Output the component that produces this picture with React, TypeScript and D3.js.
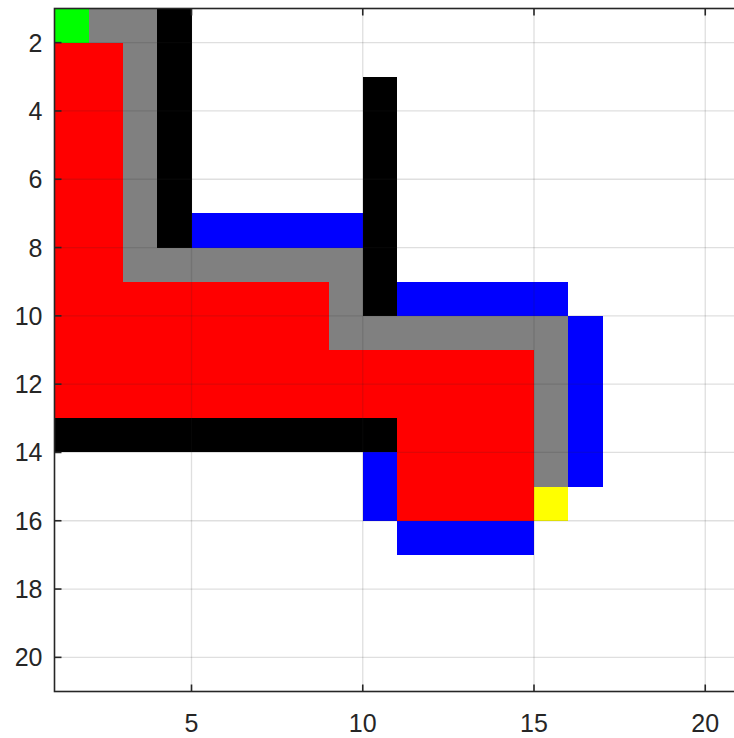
import * as d3 from "d3";

// grid map, one string per row (row 1 at top), one char per column
// . free  O obstacle  V visited  F frontier  P path  S start  G goal
const gridRows = [
  "SPPO................",
  "VVPO................",
  "VVPO.....O..........",
  "VVPO.....O..........",
  "VVPO.....O..........",
  "VVPO.....O..........",
  "VVPOFFFFFO..........",
  "VVPPPPPPPO..........",
  "VVVVVVVVPOFFFFF.....",
  "VVVVVVVVPPPPPPPF....",
  "VVVVVVVVVVVVVVPF....",
  "VVVVVVVVVVVVVVPF....",
  "OOOOOOOOOOVVVVPF....",
  ".........FVVVVPF....",
  ".........FVVVVG.....",
  "..........FFFF......",
  "....................",
  "....................",
  "....................",
  "....................",
];

const cellColors: Record<string, string> = {
  O: "#000000",
  V: "#ff0000",
  F: "#0000ff",
  P: "#808080",
  S: "#00ff00",
  G: "#ffff00",
};

const xTicks = [5, 10, 15, 20];
const yTicks = [2, 4, 6, 8, 10, 12, 14, 16, 18, 20];

const width = 734;
const height = 738;
const marginLeft = 54.5;
const marginTop = 8.5;
const plotRight = 739.5;
const plotBottom = 691.5;

type Cell = { col: number; row: number; kind: string };

export default function App() {
  const x = d3.scaleLinear().domain([1, 21]).range([marginLeft, plotRight]);
  const y = d3.scaleLinear().domain([1, 21]).range([marginTop, plotBottom]);

  const cells: Cell[] = [];
  gridRows.forEach((line, ri) => {
    line.split("").forEach((ch, ci) => {
      if (ch !== ".") cells.push({ col: ci + 1, row: ri + 1, kind: ch });
    });
  });

  const axisColor = "#262626";
  const tickLen = 7;

  return (
    <svg
      width={width}
      height={height}
      style={{ position: "fixed", left: 0, top: 0, background: "#fff" }}
      fontFamily="'Liberation Sans', Arial, sans-serif"
    >
      <rect x={0} y={0} width={width} height={height} fill="#fff" />
      <g shapeRendering="crispEdges">
        {cells.map((d, i) => (
          <rect
            key={i}
            x={x(d.col)}
            y={y(d.row)}
            width={x(d.col + 1) - x(d.col)}
            height={y(d.row + 1) - y(d.row)}
            fill={cellColors[d.kind]}
          />
        ))}
      </g>

      {/* grid on top of the cells */}
      <g stroke={axisColor} strokeOpacity={0.15} strokeWidth={1.3}>
        {xTicks.map((t) => (
          <line key={"gx" + t} x1={x(t)} x2={x(t)} y1={y(1)} y2={y(21)} />
        ))}
        {yTicks.map((t) => (
          <line key={"gy" + t} x1={x(1)} x2={x(21)} y1={y(t)} y2={y(t)} />
        ))}
      </g>

      {/* box and ticks */}
      <g stroke={axisColor} strokeWidth={1.6} fill="none">
        <rect x={x(1)} y={y(1)} width={x(21) - x(1)} height={y(21) - y(1)} />
        {xTicks.map((t) => (
          <g key={"tx" + t}>
            <line x1={x(t)} x2={x(t)} y1={y(21)} y2={y(21) - tickLen} />
            <line x1={x(t)} x2={x(t)} y1={y(1)} y2={y(1) + tickLen} />
          </g>
        ))}
        {yTicks.map((t) => (
          <line key={"ty" + t} x1={x(1)} x2={x(1) + tickLen} y1={y(t)} y2={y(t)} />
        ))}
      </g>

      <g fill={axisColor} fontSize={25}>
        {xTicks.map((t) => (
          <text key={"lx" + t} x={x(t)} y={y(21) + 40} textAnchor="middle">
            {t}
          </text>
        ))}
        {yTicks.map((t) => (
          <text key={"ly" + t} x={x(1) - 12} y={y(t)} dy="0.36em" textAnchor="end">
            {t}
          </text>
        ))}
      </g>
    </svg>
  );
}
